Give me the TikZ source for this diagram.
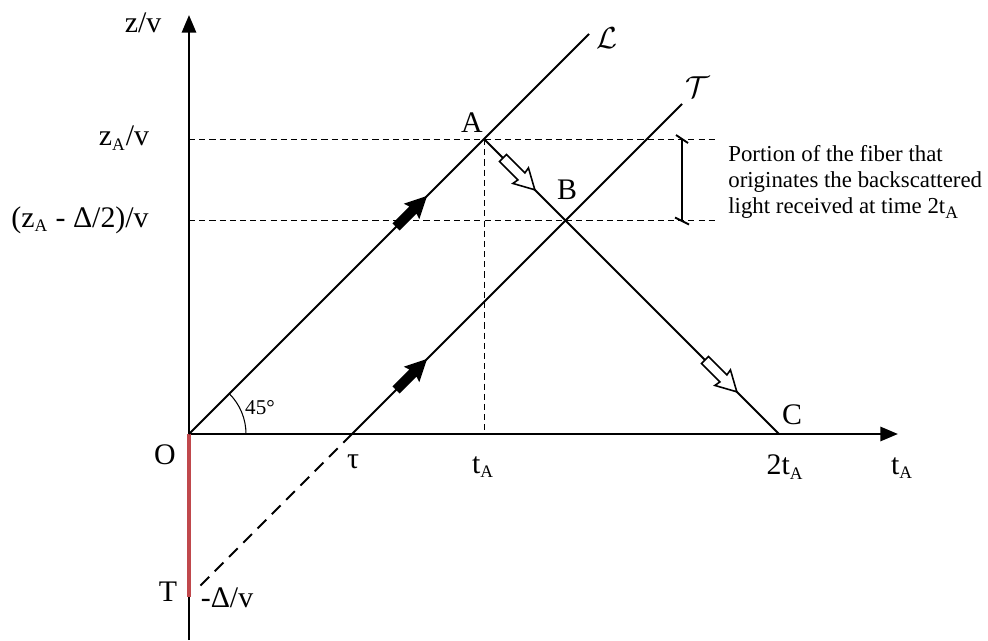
\documentclass[tikz,border=0pt]{standalone}
\usepackage{fontspec}
\setmainfont{Liberation Serif}
\usepackage{xcolor}
\usetikzlibrary{arrows.meta}

\definecolor{fiberred}{RGB}{192,72,76}
\newcommand{\subA}{\textsubscript{\fontsize{10}{11}\selectfont A}}

\tikzset{
  axisline/.style={line width=1.5pt, -{Triangle[length=10pt,width=8pt]}},
  ray/.style={line width=1.2pt},
  guide/.style={line width=0.55pt, dash pattern=on 3.5pt off 2.3pt},
  lbl/.style={font=\fontsize{17}{20}\selectfont, inner sep=0pt},
  fillarrow/.pic={
    \fill (0,-5) -- (24,-5) -- (22,-11) -- (44,0) -- (22,11) -- (24,5) -- (0,5) -- cycle;
  },
  openarrow/.pic={
    \filldraw[fill=white, line width=0.9pt] (0,-5) -- (26,-5) -- (25,-11) -- (45,0) -- (25,11) -- (26,5) -- (0,5) -- cycle;
  }
}

\begin{document}
\begin{tikzpicture}[x=0.02cm, y=0.02cm]
\useasboundingbox (0,0) rectangle (988,640);
% Points of the diagram
\coordinate (O) at (189,206);
\coordinate (ztop) at (189,625);
\coordinate (zbot) at (189,0);
\coordinate (tend) at (898,206);
\coordinate (Lend) at (589,606);
\coordinate (A) at (484,501);
\coordinate (tau) at (352,206);
\coordinate (Tend) at (682,536);
\coordinate (B) at (565.5,419.5);
\coordinate (C) at (779,206);
\coordinate (T) at (189,43);
\coordinate (hA) at (715,501);
\coordinate (hB) at (715,419.5);
\coordinate (brt) at (682,501);
\coordinate (brb) at (682,419.5);

% Dashed guides
\draw[guide] (O |- A) -- (hA);
\draw[guide] (O |- B) -- (hB);
\draw[guide] (A) -- (A |- O);

% Axes
\draw[axisline] (zbot) -- (ztop);
\draw[axisline] (O) -- (tend);
\draw[fiberred, line width=2pt] (O) -- (T);

% Light paths
\draw[ray] (O) -- (Lend);
\draw[ray] (tau) -- (Tend);
\draw[ray] (A) -- (C);
\draw[line width=1.1pt, dash pattern=on 7pt off 4.5pt, shorten >=5pt] (tau) -- (T);

% 45 degree mark
\draw[line width=0.6pt] (O) ++(57,0) arc[start angle=0, end angle=45, radius=57];

% Direction arrows
\foreach \yy in {413,250} {
    \pic[rotate=45] at (396,\yy) {fillarrow};
}
\pic[rotate=-45] at (503,482) {openarrow};
\pic[rotate=-45] at (705,280) {openarrow};

% Bracket for the fiber portion
\draw[line width=0.8pt] (brt) -- (brb);
\draw[line width=1.1pt] (brt) ++(-6,4) -- ++(12,-8);
\draw[line width=1.1pt] (brb) ++(-7,3) -- ++(14,-7);
\node[anchor=west, align=left, inner sep=0pt, font=\fontsize{13}{15}\selectfont] (note) at (728,458)
    {Portion of the fiber that\\originates the backscattered\\light received at time 2t\subA};

% Labels
\node[lbl] (lzv) at (143,617) {z/v};
\node[lbl] (lzA) at (124,502) {z\subA/v};
\node[lbl] (lzAd) at (80,420) {(z\subA{} - Δ/2)/v};
\node[lbl] (lO) at (165,185) {O};
\node[lbl] (ltau) at (353,178) {τ};
\node[lbl] (ltA) at (483,173) {t\subA};
\node[lbl] (l2tA) at (785,173) {2t\subA};
\node[lbl] (ltAx) at (902,172) {t\subA};
\node[lbl] (lC) at (792,225) {C};
\node[lbl] (lA) at (472,517) {A};
\node[lbl] (lB) at (567,450) {B};
\node[lbl] (lT) at (168,48) {T};
\node[lbl] (ldv) at (227,42) {-Δ/v};
\node[inner sep=0pt, font=\fontsize{12}{14}\selectfont] (l45) at (260,232) {45°};
\node[lbl] (lL) at (607,602) {$\mathcal{L}$};
\node[lbl] (lTT) at (698,553) {$\mathcal{T}$};
\end{tikzpicture}
\end{document}
